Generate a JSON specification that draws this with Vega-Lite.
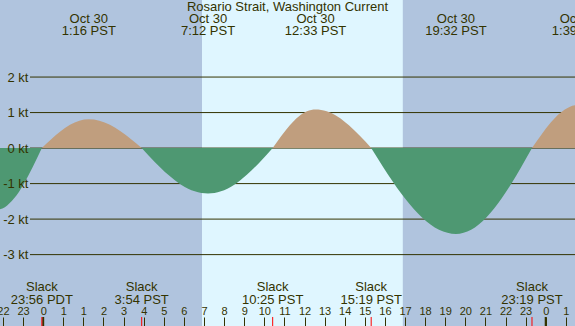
{
  "$schema": "https://vega.github.io/schema/vega-lite/v6.json",
  "width": 575,
  "height": 326,
  "autosize": {"type": "none"},
  "padding": 0,
  "background": "#B0C4DE",
  "config": {"view": {"stroke": null}, "text": {"font": "Liberation Sans", "fontSize": 13, "color": "#333300"}},
  "resolve": {"axis": {"x": "independent", "y": "independent"}},
  "datasets": {
    "curve": [
      {"t": -3.367, "v": -1.75, "seg": "e0", "phase": "ebb"},
      {"t": -2.907, "v": -1.664, "seg": "e0", "phase": "ebb"},
      {"t": -2.447, "v": -1.416, "seg": "e0", "phase": "ebb"},
      {"t": -1.987, "v": -1.029, "seg": "e0", "phase": "ebb"},
      {"t": -1.527, "v": -0.541, "seg": "e0", "phase": "ebb"},
      {"t": -1.067, "v": 0, "seg": "e0", "phase": "ebb"},
      {"t": -1.067, "v": 0, "seg": "f1", "phase": "flood"},
      {"t": -0.6, "v": 0.25, "seg": "f1", "phase": "flood"},
      {"t": -0.133, "v": 0.476, "seg": "f1", "phase": "flood"},
      {"t": 0.333, "v": 0.655, "seg": "f1", "phase": "flood"},
      {"t": 0.8, "v": 0.77, "seg": "f1", "phase": "flood"},
      {"t": 1.267, "v": 0.81, "seg": "f1", "phase": "flood"},
      {"t": 1.794, "v": 0.77, "seg": "f1", "phase": "flood"},
      {"t": 2.32, "v": 0.655, "seg": "f1", "phase": "flood"},
      {"t": 2.847, "v": 0.476, "seg": "f1", "phase": "flood"},
      {"t": 3.373, "v": 0.25, "seg": "f1", "phase": "flood"},
      {"t": 3.9, "v": 0, "seg": "f1", "phase": "flood"},
      {"t": 3.9, "v": 0, "seg": "e2", "phase": "ebb"},
      {"t": 4.56, "v": -0.396, "seg": "e2", "phase": "ebb"},
      {"t": 5.22, "v": -0.752, "seg": "e2", "phase": "ebb"},
      {"t": 5.88, "v": -1.036, "seg": "e2", "phase": "ebb"},
      {"t": 6.54, "v": -1.217, "seg": "e2", "phase": "ebb"},
      {"t": 7.2, "v": -1.28, "seg": "e2", "phase": "ebb"},
      {"t": 7.843, "v": -1.217, "seg": "e2", "phase": "ebb"},
      {"t": 8.487, "v": -1.036, "seg": "e2", "phase": "ebb"},
      {"t": 9.13, "v": -0.752, "seg": "e2", "phase": "ebb"},
      {"t": 9.774, "v": -0.396, "seg": "e2", "phase": "ebb"},
      {"t": 10.417, "v": 0, "seg": "e2", "phase": "ebb"},
      {"t": 10.417, "v": 0, "seg": "f3", "phase": "flood"},
      {"t": 10.844, "v": 0.337, "seg": "f3", "phase": "flood"},
      {"t": 11.27, "v": 0.641, "seg": "f3", "phase": "flood"},
      {"t": 11.697, "v": 0.882, "seg": "f3", "phase": "flood"},
      {"t": 12.123, "v": 1.037, "seg": "f3", "phase": "flood"},
      {"t": 12.55, "v": 1.09, "seg": "f3", "phase": "flood"},
      {"t": 13.103, "v": 1.037, "seg": "f3", "phase": "flood"},
      {"t": 13.657, "v": 0.882, "seg": "f3", "phase": "flood"},
      {"t": 14.21, "v": 0.641, "seg": "f3", "phase": "flood"},
      {"t": 14.764, "v": 0.337, "seg": "f3", "phase": "flood"},
      {"t": 15.317, "v": 0, "seg": "f3", "phase": "flood"},
      {"t": 15.317, "v": 0, "seg": "e4", "phase": "ebb"},
      {"t": 16.16, "v": -0.748, "seg": "e4", "phase": "ebb"},
      {"t": 17.003, "v": -1.422, "seg": "e4", "phase": "ebb"},
      {"t": 17.847, "v": -1.958, "seg": "e4", "phase": "ebb"},
      {"t": 18.69, "v": -2.302, "seg": "e4", "phase": "ebb"},
      {"t": 19.533, "v": -2.42, "seg": "e4", "phase": "ebb"},
      {"t": 20.29, "v": -2.302, "seg": "e4", "phase": "ebb"},
      {"t": 21.047, "v": -1.958, "seg": "e4", "phase": "ebb"},
      {"t": 21.803, "v": -1.422, "seg": "e4", "phase": "ebb"},
      {"t": 22.56, "v": -0.748, "seg": "e4", "phase": "ebb"},
      {"t": 23.317, "v": 0, "seg": "e4", "phase": "ebb"},
      {"t": 23.317, "v": 0, "seg": "f5", "phase": "flood"},
      {"t": 23.784, "v": 0.377, "seg": "f5", "phase": "flood"},
      {"t": 24.25, "v": 0.717, "seg": "f5", "phase": "flood"},
      {"t": 24.717, "v": 0.987, "seg": "f5", "phase": "flood"},
      {"t": 25.183, "v": 1.16, "seg": "f5", "phase": "flood"},
      {"t": 25.65, "v": 1.22, "seg": "f5", "phase": "flood"}
    ],
    "levels": [{"level": -3}, {"level": -2}, {"level": -1}, {"level": 0}, {"level": 1}, {"level": 2}],
    "day": [{"start": 6.9, "end": 16.89}],
    "events": [
      {"t": 1.267, "d": "Oct 30", "tm": "1:16 PST"},
      {"t": 7.2, "d": "Oct 30", "tm": "7:12 PST"},
      {"t": 12.55, "d": "Oct 30", "tm": "12:33 PST"},
      {"t": 19.533, "d": "Oct 30", "tm": "19:32 PST"},
      {"t": 25.65, "d": "Oct 31", "tm": "1:39 PST"}
    ],
    "slacks": [
      {"t": -1.067, "tm": "23:56 PDT"},
      {"t": 3.9, "tm": "3:54 PST"},
      {"t": 10.417, "tm": "10:25 PST"},
      {"t": 15.317, "tm": "15:19 PST"},
      {"t": 23.317, "tm": "23:19 PST"}
    ],
    "midnights": [{"t": -1}, {"t": 24}]
  },
  "layer": [
    {
      "data": {"name": "day"},
      "mark": {"type": "rect", "color": "#DFF6FF"},
      "encoding": {
        "x": {"field": "start", "type": "quantitative", "scale": {"domain": [-3.149, 25.457], "nice": false, "zero": false}, "axis": null},
        "x2": {"field": "end"}
      }
    },
    {
      "data": {"name": "levels"},
      "mark": {"type": "rule", "color": "#333300", "strokeWidth": 1},
      "encoding": {
        "y": {"field": "level", "type": "quantitative", "scale": {"domain": [-5.01, 4.17], "nice": false, "zero": false},
          "axis": {"orient": "left", "offset": -30, "values": [-3, -2, -1, 0, 1, 2], "labelExpr": "datum.value + ' kt'", "ticks": false, "domain": false, "grid": false, "labelPadding": 2, "labelFont": "Liberation Sans", "labelFontSize": 13, "labelColor": "#333300", "title": null, "zindex": 1}},
        "x": {"datum": -1.657, "type": "quantitative", "axis": null},
        "x2": {"datum": 25.457}
      }
    },
    {
      "data": {"name": "curve"},
      "mark": {"type": "area", "interpolate": "monotone", "clip": true},
      "encoding": {
        "x": {"field": "t", "type": "quantitative",
          "axis": {"orient": "top", "offset": -326, "values": [-3, -2, -1, 0, 1, 2, 3, 4, 5, 6, 7, 8, 9, 10, 11, 12, 13, 14, 15, 16, 17, 18, 19, 20, 21, 22, 23, 24, 25],
            "labelExpr": "datum.value >= 1 ? '' + (datum.value % 24) : '' + ((datum.value + 25) % 24)",
            "tickSize": 9, "tickColor": "#333300", "tickWidth": 1, "domain": false, "grid": false, "labelPadding": 1, "labelFont": "Liberation Sans", "labelFontSize": 11, "labelColor": "#333300", "labelFlush": false, "labelOverlap": false, "title": null, "zindex": 1}},
        "y": {"field": "v", "type": "quantitative", "axis": null},
        "y2": {"datum": 0},
        "color": {"field": "phase", "type": "nominal", "scale": {"domain": ["flood", "ebb"], "range": ["#C09E7E", "#4E9872"]}, "legend": null},
        "detail": {"field": "seg"}
      }
    },
    {
      "data": {"name": "midnights"},
      "mark": {"type": "rule", "color": "#333300", "strokeWidth": 2},
      "encoding": {
        "x": {"field": "t", "type": "quantitative", "axis": null},
        "y": {"datum": -5.01, "type": "quantitative", "axis": null},
        "y2": {"datum": -4.756}
      }
    },
    {
      "data": {"name": "slacks"},
      "mark": {"type": "rule", "color": "#FF0000", "strokeWidth": 1},
      "encoding": {
        "x": {"field": "t", "type": "quantitative", "axis": null},
        "y": {"datum": -5.01, "type": "quantitative", "axis": null},
        "y2": {"datum": -4.756}
      }
    },
    {
      "data": {"name": "slacks"},
      "mark": {"type": "text", "baseline": "middle", "dy": -39},
      "encoding": {
        "x": {"field": "t", "type": "quantitative", "axis": null},
        "y": {"datum": -5.01, "type": "quantitative", "axis": null},
        "text": {"value": "Slack"}
      }
    },
    {
      "data": {"name": "slacks"},
      "mark": {"type": "text", "baseline": "middle", "dy": -26.5},
      "encoding": {
        "x": {"field": "t", "type": "quantitative", "axis": null},
        "y": {"datum": -5.01, "type": "quantitative", "axis": null},
        "text": {"field": "tm"}
      }
    },
    {
      "data": {"name": "events"},
      "mark": {"type": "text", "baseline": "middle", "dy": 19},
      "encoding": {
        "x": {"field": "t", "type": "quantitative", "axis": null},
        "y": {"datum": 4.17, "type": "quantitative", "axis": null},
        "text": {"field": "d"}
      }
    },
    {
      "data": {"name": "events"},
      "mark": {"type": "text", "baseline": "middle", "dy": 31},
      "encoding": {
        "x": {"field": "t", "type": "quantitative", "axis": null},
        "y": {"datum": 4.17, "type": "quantitative", "axis": null},
        "text": {"field": "tm"}
      }
    },
    {
      "data": {"values": [{"name": "Rosario Strait, Washington Current"}]},
      "mark": {"type": "text", "baseline": "middle", "dy": 7},
      "encoding": {
        "x": {"datum": 11.154, "type": "quantitative", "axis": null},
        "y": {"datum": 4.17, "type": "quantitative", "axis": null},
        "text": {"field": "name"}
      }
    }
  ]
}
